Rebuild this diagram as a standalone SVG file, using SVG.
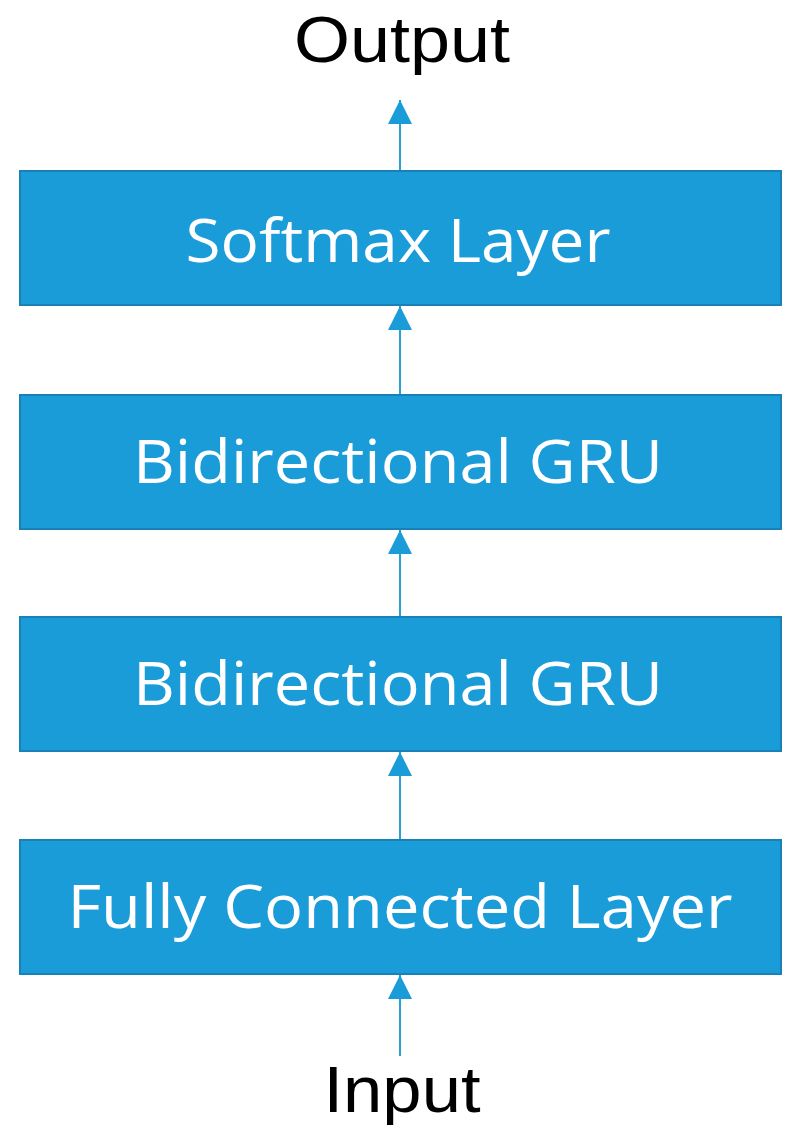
<svg xmlns="http://www.w3.org/2000/svg" width="799" height="1139" viewBox="0 0 799 1139">
<style>
.box{fill:#1a9cd8;stroke:#1a80b8;stroke-width:2}
.lbl{font-family:"Open Sans","Liberation Sans",sans-serif;font-size:60px;fill:#ffffff;text-anchor:middle}
.ext{font-family:"Liberation Sans","Open Sans",sans-serif;font-size:64px;fill:#000000;text-anchor:middle}
.con{stroke:#2a9fd8;stroke-width:2;fill:none;marker-end:url(#ah)}
</style>
<defs>
<marker id="ah" markerUnits="userSpaceOnUse" markerWidth="26" markerHeight="24" refX="24" refY="12" orient="auto">
<path d="M0,0 L24,12 L0,24 Z" fill="#1a9cd8"/>
</marker>
</defs>
<rect width="799" height="1139" fill="#ffffff"/>
<g id="connectors">
<line class="con" x1="400" y1="171" x2="400" y2="100"/>
<line class="con" x1="400" y1="395" x2="400" y2="306"/>
<line class="con" x1="400" y1="617" x2="400" y2="530"/>
<line class="con" x1="400" y1="840" x2="400" y2="752"/>
<line class="con" x1="400" y1="1056" x2="400" y2="975"/>
</g>
<g id="output"><text class="ext" x="402" y="62" textLength="216" lengthAdjust="spacingAndGlyphs">Output</text></g>
<g id="softmax"><rect class="box" x="20" y="171" width="761" height="134"/><text class="lbl" x="398" y="262" textLength="425" lengthAdjust="spacingAndGlyphs">Softmax Layer</text></g>
<g id="gru1"><rect class="box" x="20" y="395" width="761" height="134"/><text class="lbl" x="398" y="483" textLength="530" lengthAdjust="spacingAndGlyphs">Bidirectional GRU</text></g>
<g id="gru2"><rect class="box" x="20" y="617" width="761" height="134"/><text class="lbl" x="398" y="705" textLength="530" lengthAdjust="spacingAndGlyphs">Bidirectional GRU</text></g>
<g id="fc"><rect class="box" x="20" y="840" width="761" height="134"/><text class="lbl" x="400" y="928" textLength="665" lengthAdjust="spacingAndGlyphs">Fully Connected Layer</text></g>
<g id="input"><text class="ext" x="402" y="1112" textLength="157" lengthAdjust="spacingAndGlyphs">Input</text></g>
</svg>
